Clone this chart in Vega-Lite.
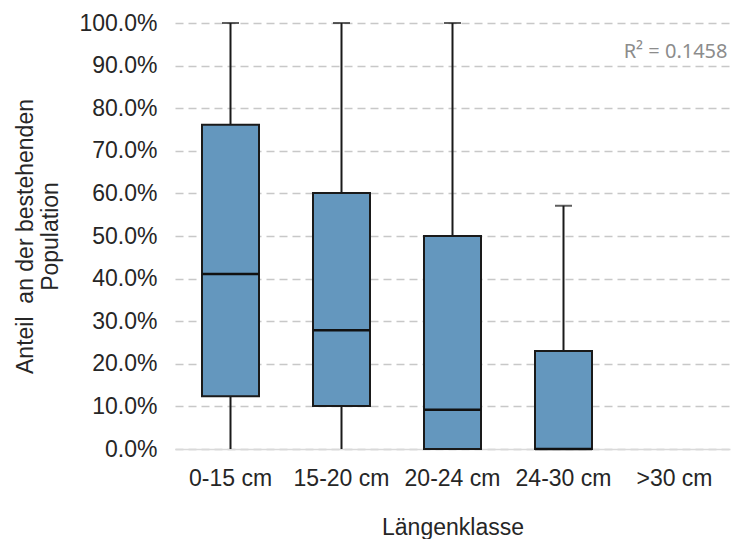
{
  "$schema": "https://vega.github.io/schema/vega-lite/v6.json",
  "width": 555,
  "height": 426,
  "autosize": {"type": "none"},
  "padding": {"left": 175, "top": 23, "right": 6, "bottom": 90},
  "background": "white",
  "config": {
    "view": {"stroke": null},
    "font": "Liberation Sans",
    "axis": {
      "labelFont": "Liberation Sans",
      "titleFont": "Liberation Sans",
      "labelFontSize": 23,
      "titleFontSize": 23,
      "labelColor": "#262626",
      "titleColor": "#262626",
      "titleFontWeight": "normal",
      "ticks": false
    }
  },
  "datasets": {
    "boxes": [
      {"klasse": "0-15 cm", "min": 0, "q1": 0.124, "median": 0.411, "q3": 0.761, "max": 1.0},
      {"klasse": "15-20 cm", "min": 0, "q1": 0.101, "median": 0.279, "q3": 0.601, "max": 1.0},
      {"klasse": "20-24 cm", "min": 0, "q1": 0.0, "median": 0.092, "q3": 0.5, "max": 1.0},
      {"klasse": "24-30 cm", "min": 0, "q1": 0.0, "median": 0.0, "q3": 0.23, "max": 0.571}
    ],
    "note": [
      {"klasse": ">30 cm", "value": 0.918, "label": "R² = 0.1458"}
    ]
  },
  "encoding": {
    "x": {
      "field": "klasse",
      "type": "nominal",
      "sort": null,
      "scale": {"domain": ["0-15 cm", "15-20 cm", "20-24 cm", "24-30 cm", ">30 cm"], "paddingInner": 0, "paddingOuter": 0},
      "axis": {
        "title": "Längenklasse",
        "labelAngle": 0,
        "labelPadding": 18,
        "titlePadding": 26,
        "domainColor": "#d9d9d9",
        "domainWidth": 1.5,
        "grid": false
      }
    }
  },
  "layer": [
    {
      "data": {"name": "boxes"},
      "mark": {"type": "rule", "color": "#1a1a1a", "strokeWidth": 2},
      "encoding": {
        "y": {
          "field": "min",
          "type": "quantitative",
          "scale": {"domain": [0, 1], "nice": false},
          "axis": {
            "title": ["Anteil\u00a0 an der bestehenden", "Population"],
            "titleLineHeight": 25,
            "format": ".1%",
            "values": [0, 0.1, 0.2, 0.3, 0.4, 0.5, 0.6, 0.7, 0.8, 0.9, 1.0],
            "labelPadding": 18,
            "titlePadding": 16,
            "domain": false,
            "grid": true,
            "gridColor": "#c8c8c8",
            "gridWidth": 1.5,
            "gridDash": [8, 5]
          }
        },
        "y2": {"field": "max"}
      }
    },
    {
      "data": {"name": "boxes"},
      "mark": {"type": "tick", "color": "#1a1a1a", "thickness": 2, "size": 17, "orient": "horizontal"},
      "encoding": {
        "y": {"field": "max", "type": "quantitative"}
      }
    },
    {
      "data": {"name": "boxes"},
      "mark": {"type": "bar", "width": 57, "fill": "#6497be", "stroke": "#1a1a1a", "strokeWidth": 2},
      "encoding": {
        "y": {"field": "q1", "type": "quantitative"},
        "y2": {"field": "q3"}
      }
    },
    {
      "data": {"name": "boxes"},
      "mark": {"type": "tick", "color": "#111111", "opacity": 1, "thickness": 2.5, "size": 57, "orient": "horizontal"},
      "encoding": {
        "y": {"field": "median", "type": "quantitative"}
      }
    },
    {
      "data": {"name": "note"},
      "mark": {"type": "text", "font": "Noto Sans", "fontSize": 20, "color": "#8c8c8c", "align": "right", "baseline": "alphabetic", "dx": 53},
      "encoding": {
        "y": {"field": "value", "type": "quantitative"},
        "text": {"field": "label"}
      }
    }
  ]
}
